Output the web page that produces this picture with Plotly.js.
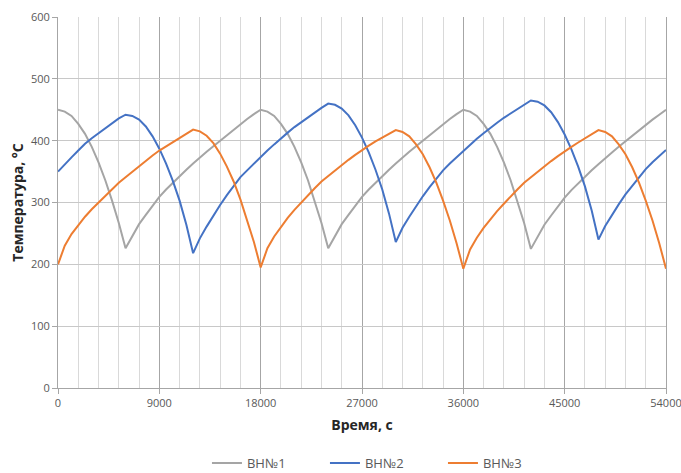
<!DOCTYPE html>
<html>
<head>
<meta charset="utf-8">
<script src="https://cdn.plot.ly/plotly-3.0.1.min.js"></script>
<style>html,body{margin:0;padding:0;background:#fff;}#chart{width:681px;height:473px;}</style>
</head>
<body>
<div id="chart"></div>
<script>
var time = [0,600,1200,1800,2400,3000,3600,4200,4800,5400,6000,6600,7200,7800,8400,9000,9600,10200,10800,11400,
12000,12600,13200,13800,14400,15000,15600,16200,16800,17400,18000,18600,19200,19800,20400,21000,21600,22200,22800,23400,
24000,24600,25200,25800,26400,27000,27600,28200,28800,29400,30000,30600,31200,31800,32400,33000,33600,34200,34800,35400,
36000,36600,37200,37800,38400,39000,39600,40200,40800,41400,42000,42600,43200,43800,44400,45000,45600,46200,46800,47400,
48000,48600,49200,49800,50400,51000,51600,52200,52800,53400,54000];

var vn1 = [450,447,440,427,411,390,365,336,303,267,226,
246,265,280,295,309,321,332,343,353,363,373,382,391,400,409,418,427,435,443,450,
447,440,427,411,390,365,336,303,267,226,
246,265,280,295,309,321,332,343,353,363,373,382,391,400,409,418,427,435,443,450,
447,440,427,411,390,365,336,303,267,225,
245,264,279,294,308,320,331,342,352,362,372,381,390,399,408,417,426,434,442,450];

var vn2 = [350,362,373,384,395,404,412,420,428,436,442,
440,434,423,407,387,363,335,303,264,218,
242,261,279,296,312,327,341,352,363,374,384,394,404,413,422,430,438,446,453,460,
458,452,441,425,405,381,353,321,282,236,
259,277,294,310,325,339,352,363,373,384,393,403,412,421,429,437,444,452,458,465,
463,457,446,430,410,386,358,326,287,240,
262,280,297,313,327,341,354,365,375,385];

var vn3 = [200,230,249,264,277,289,300,311,322,332,341,350,359,367,376,384,391,398,405,412,418,
415,408,396,379,358,334,305,272,236,195,
226,245,261,275,288,300,312,323,334,343,352,361,369,377,385,392,399,405,411,417,
414,407,394,378,357,332,303,271,234,193,
224,243,259,273,286,298,310,321,332,341,350,359,367,375,383,390,397,404,411,417,
414,407,394,378,357,332,303,271,234,193];

var names = ['ВН№1','ВН№2','ВН№3'];
var colors = ['#a5a5a5','#4472c4','#ed7d31'];
var series = [vn1, vn2, vn3];

var traces = series.map(function(s, k){
  return {x: time, y: s, type: 'scatter', mode: 'lines', name: names[k],
          line: {color: colors[k], width: 2}, hoverinfo: 'skip'};
});

var fam = 'Open Sans, Liberation Sans, sans-serif';
var layout = {
  width: 681, height: 473,
  margin: {l: 58, r: 15, t: 17, b: 85, autoexpand: false},
  paper_bgcolor: '#ffffff', plot_bgcolor: '#ffffff',
  font: {family: fam, color: '#595959'},
  showlegend: true,
  legend: {orientation: 'h', x: 0.245, xanchor: 'left', yref: 'container', y: 0.021, yanchor: 'middle',
           font: {size: 13, color: '#595959', family: fam}, entrywidth: 73, entrywidthmode: 'pixels',
           bgcolor: 'rgba(0,0,0,0)'},
  xaxis: {range: [0, 54000], tick0: 0, dtick: 9000, tickformat: 'd', showgrid: true, gridcolor: '#a6a6a6', gridwidth: 1,
          minor: {dtick: 1800, showgrid: true, gridcolor: '#d9d9d9', gridwidth: 1},
          ticks: 'outside', ticklen: 5, tickcolor: '#a6a6a6', showline: true, linecolor: '#a6a6a6',
          zeroline: false, automargin: false, ticklabeloverflow: 'allow', tickfont: {size: 11, color: '#595959'},
          title: {text: 'Время, с', font: {size: 14, color: '#262626', weight: 'bold'}, standoff: 10}},
  yaxis: {range: [0, 600], tick0: 0, dtick: 100, showgrid: true, gridcolor: '#c8c8c8', gridwidth: 1,
          ticks: 'outside', ticklen: 5, tickcolor: '#a6a6a6', showline: true, mirror: true, linecolor: '#a6a6a6',
          zeroline: false, automargin: false, tickfont: {size: 11, color: '#595959'},
          title: {text: 'Температура, °С', font: {size: 14, color: '#262626', weight: 'bold'}, standoff: 4}}
};

Plotly.newPlot('chart', traces, layout, {displayModeBar: false, staticPlot: true});
</script>
</body>
</html>
